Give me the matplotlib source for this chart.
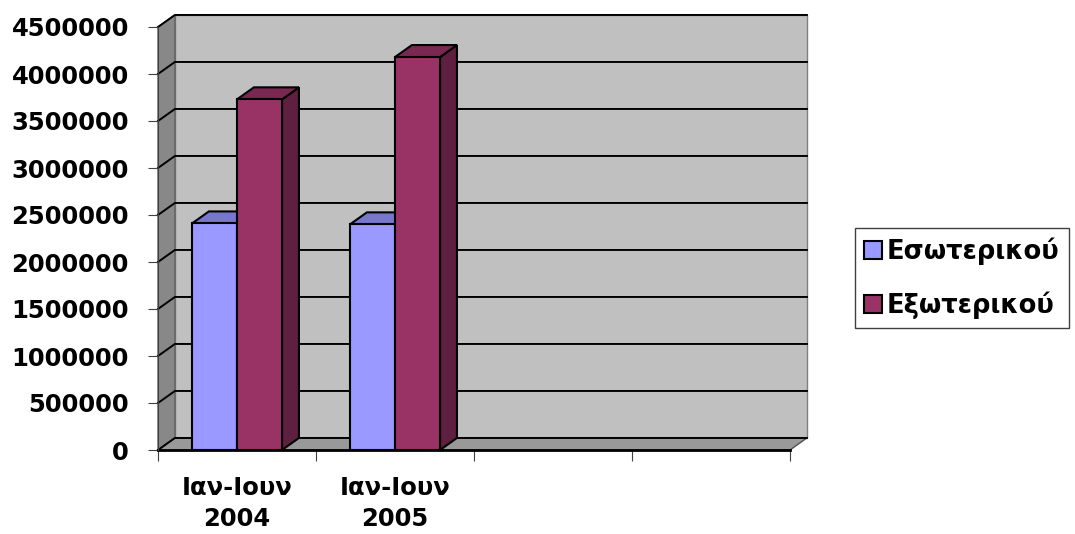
import numpy as np
import matplotlib.pyplot as plt
from matplotlib.patches import Polygon

# δεδομένα
categorias = ['Ιαν-Ιουν\n2004', 'Ιαν-Ιουν\n2005', '', '']
esoterikou = [2410000, 2400000]
exoterikou = [3730000, 4180000]
series = ['Εσωτερικού', 'Εξωτερικού']
yticks = np.arange(0, 4500001, 500000)

plt.rcParams['font.family'] = 'DejaVu Sans'
plt.rcParams['font.weight'] = 'bold'

fig = plt.figure(figsize=(10.75, 5.34), dpi=100)
ax = fig.add_axes([158/1075, 84/534, 632/1075, 423/534])

n = len(categorias)
ymax = yticks[-1]
dx, dy = 0.107, 128000     # βάθος της 3D όψης
w = 0.285                  # πλάτος μπάρας

# τοίχοι και πάτωμα
ax.add_patch(Polygon([(dx, dy), (n+dx, dy), (n+dx, ymax+dy), (dx, ymax+dy)],
                     fc='#c0c0c0', ec='#808080', lw=1, clip_on=False, zorder=0))
ax.add_patch(Polygon([(0, 0), (dx, dy), (dx, ymax+dy), (0, ymax)],
                     fc='#888888', ec='#606060', lw=1, clip_on=False, zorder=0))
ax.add_patch(Polygon([(0, 0), (n, 0), (n+dx, dy), (dx, dy)],
                     fc='#999999', ec='#505050', lw=1, clip_on=False, zorder=0.5))
for v in yticks:
    ax.plot([0, dx, n+dx], [v, v+dy, v+dy], color='black', lw=1.4,
            clip_on=False, zorder=1)

def bar3d(x0, h, fc, top, side, label):
    ax.add_patch(Polygon([(x0+w, 0), (x0+w+dx, dy), (x0+w+dx, h+dy), (x0+w, h)],
                         fc=side, ec='black', lw=1.5, clip_on=False, zorder=2))
    ax.add_patch(Polygon([(x0, h), (x0+w, h), (x0+w+dx, h+dy), (x0+dx, h+dy)],
                         fc=top, ec='black', lw=1.5, clip_on=False, zorder=2))
    return ax.bar(x0, h, w, align='edge', color=fc, edgecolor='black',
                  lw=1.5, zorder=2, label=label, clip_on=False)

centros = np.arange(len(esoterikou)) + 0.5
for c, e, x in zip(centros, esoterikou, exoterikou):
    b1 = bar3d(c - w, e, '#9999ff', '#7777cc', '#6666aa', series[0])
    b2 = bar3d(c, x, '#993366', '#7a2852', '#5f1f40', series[1])
handles = [b1, b2]

ax.set_xlim(0, n)
ax.set_ylim(0, ymax)
ax.set_facecolor('none')
for s in ['top', 'right']:
    ax.spines[s].set_visible(False)
ax.spines['left'].set_color('#404040')
ax.spines['bottom'].set_color('black')
ax.spines['bottom'].set_linewidth(2)
ax.spines['left'].set_zorder(3)

ax.set_yticks(yticks)
ax.set_yticklabels([str(v) for v in yticks], fontsize=17.5, fontweight='bold')
ax.tick_params(axis='y', length=7, pad=14, color='#404040')

ax.set_xticks(np.arange(n + 1))
ax.set_xticklabels([])
ax.set_xticks(np.arange(n) + 0.5, minor=True)
ax.set_xticklabels(categorias, minor=True, fontsize=17.5, fontweight='bold',
                   linespacing=1.35)
ax.tick_params(axis='x', which='major', length=8, color='#404040')
ax.tick_params(axis='x', which='minor', length=0, pad=19)

leg = fig.legend(handles, series, loc='center left',
                 bbox_to_anchor=(855/1075, 1 - 278/534),
                 fancybox=False, edgecolor='#404040', framealpha=1,
                 handlelength=0.7, handleheight=0.7, handletextpad=0.2,
                 labelspacing=1.05, borderpad=0.35, borderaxespad=0,
                 prop={'size': 18.5, 'weight': 'bold'})
leg.get_frame().set_linewidth(1)

plt.savefig('out.png', dpi=100)
